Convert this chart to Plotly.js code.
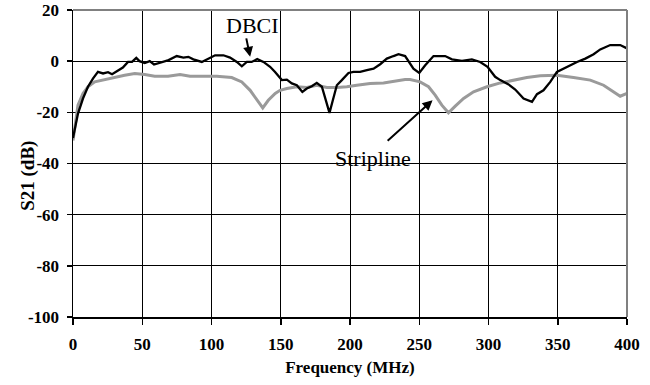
<!DOCTYPE html>
<html>
<head>
<meta charset="utf-8">
<script src="https://cdn.plot.ly/plotly-3.0.1.min.js"></script>
<style>html,body{margin:0;padding:0;background:#fff;}#chart{width:650px;height:385px;}</style>
</head>
<body>
<div id="chart"></div>
<script>
// DBCI series (black)
var dbciFreq = [0,1.2,3.6,7.2,10.8,14.4,18,21.7,25.3,28.2,32.5,36,39.7,42.6,45.7,48,51.8,55.4,58.5,61.4,65,69,74.9,79.7,83.3,86.9,93,97.8,102.6,108.6,113.4,118.3,121.9,125.5,129,133,137.5,142.3,145.9,150.8,154.4,158,161.6,165.6,168.8,172.4,176,179.7,182.8,185.2,187.6,190.5,194.1,198.9,202.5,207.3,212.2,217,221.8,226.6,231.4,235,239.8,245.8,250,254.3,260.3,268.7,273.6,280.8,288,294,299.3,304.8,308.5,314.5,319.3,325.3,331.4,335,339.7,344.6,349.4,354.2,359,363.9,369.9,375.9,380.7,387.9,395.1,400];
var dbciS21 = [-30,-27,-20.5,-14.6,-10,-6.8,-4.2,-4.8,-4.3,-5.1,-3.5,-2.5,-0.3,-0.3,1.3,0,-0.7,0,-1.3,-0.9,-0.3,0.4,2,1.4,1.7,0.7,-0.3,1,2.3,2.3,1.4,-0.3,-2,-0.3,-0.3,0.8,-0.3,-2.2,-4.2,-7.4,-7.2,-8.7,-9.4,-12,-10.7,-9.8,-8.5,-10,-15.9,-20.2,-15.3,-9.4,-7.4,-4.6,-4.2,-4.2,-3.5,-2.9,-1.2,1,2,2.7,2,-2.9,-4.6,-1.6,2,2,0.7,0.1,0.7,-0.3,-2.2,-6.1,-7.4,-9.1,-11.1,-14.6,-15.9,-12.9,-11.4,-8.1,-4.2,-2.9,-1.6,-0.3,1,2.7,4.6,6.3,6.3,5];

// Stripline series (gray)
var stripFreq = [0,1.2,3.6,7.2,10.8,15.7,22.9,30.1,37.3,44.6,51.8,59,68.6,77.3,84.5,94,103.8,114.6,121.9,127.9,133,137,141,146,149.5,154.4,161.6,168.8,176,183.3,190.5,197.7,204.9,214.5,224.2,231.4,239.8,243.4,250.6,256.7,261.5,266.3,271.1,276,282,289.2,298.9,308.5,318.1,327.7,337.4,349.4,361.4,373.5,383.1,390.3,395.1,400];
var stripS21 = [-31,-26,-17.2,-12.6,-10,-8.1,-7.2,-6.4,-5.5,-4.8,-5.2,-5.9,-5.9,-5.2,-5.9,-5.9,-5.9,-6.4,-8.1,-11.4,-15.3,-18.3,-15.3,-12.6,-11.4,-10.7,-10,-10.3,-9.4,-10.3,-10.3,-10,-9.4,-8.7,-8.5,-7.8,-7.2,-7.2,-8.1,-10,-13.3,-17.2,-20.2,-17.6,-14.6,-12,-10,-8.5,-7.4,-6.4,-5.7,-5.5,-6.4,-7.4,-9.4,-12,-13.7,-12.6];

var xTicks = [0,50,100,150,200,250,300,350,400];
var yTicks = [-100,-80,-60,-40,-20,0,20];

var labels = ["DBCI", "Stripline"];
var yTitle = "S21 (dB)";
var xTitle = "Frequency (MHz)";
// label positions and arrow tip/tail (data units)
var labelPos = [[129.7, 13.8], [216.4, -38.1]];
var arrowTip = [[127.9, 1.7], [259.6, -15.3]];
var arrowTail = [[124.9, 9.5], [226.1, -31.6]];

var serif = "'Liberation Serif', 'Times New Roman', serif";

var traces = [
  {x: stripFreq, y: stripS21, type: 'scatter', mode: 'lines', name: labels[1],
   line: {color: '#9a9a9a', width: 3}},
  {x: dbciFreq, y: dbciS21, type: 'scatter', mode: 'lines', name: labels[0],
   line: {color: '#000000', width: 2.3}}
];

var annotations = [];
for (var i = 0; i < labels.length; i++) {
  annotations.push({x: labelPos[i][0], y: labelPos[i][1], xref: 'x', yref: 'y',
    text: labels[i], showarrow: false, font: {family: serif, size: 22, color: '#000'}});
  annotations.push({x: arrowTip[i][0], y: arrowTip[i][1], xref: 'x', yref: 'y',
    ax: arrowTail[i][0], ay: arrowTail[i][1], axref: 'x', ayref: 'y',
    text: '', showarrow: true, arrowhead: 2, arrowsize: 1, arrowwidth: 2,
    arrowcolor: '#000', standoff: 0, startstandoff: 0});
}
// y-axis title placed as annotation so it can sit closer to the tick labels
annotations.push({xref: 'paper', yref: 'paper', x: 0, y: 0.46, xanchor: 'center', yanchor: 'middle',
  xshift: -45, textangle: -90, showarrow: false, text: '<b>' + yTitle + '</b>',
  font: {family: serif, size: 19, color: '#000'}});

function bold(v) { return '<b>' + v + '</b>'; }

var layout = {
  width: 650, height: 385,
  margin: {l: 73, r: 23, t: 10, b: 68},
  paper_bgcolor: '#fff', plot_bgcolor: '#fff',
  showlegend: false,
  font: {family: serif, color: '#000'},
  xaxis: {
    range: [0, 400], tickvals: xTicks, ticktext: xTicks.map(bold),
    showgrid: true, gridcolor: '#000', gridwidth: 1,
    showline: true, linecolor: '#000', linewidth: 1.5,
    ticks: 'outside', ticklen: 6, tickcolor: '#000', tickwidth: 1.5,
    ticklabelstandoff: 5,
    tickfont: {family: serif, size: 17, color: '#000', weight: 700},
    zeroline: false,
    title: {text: bold(xTitle), font: {family: serif, size: 17, color: '#000'}, standoff: 8}
  },
  yaxis: {
    range: [-100, 20], tickvals: yTicks, ticktext: yTicks.map(bold),
    showgrid: true, gridcolor: '#000', gridwidth: 1,
    showline: true, linecolor: '#000', linewidth: 1.5,
    ticks: 'outside', ticklen: 5, tickcolor: '#000', tickwidth: 1.5,
    ticklabelstandoff: 4,
    tickfont: {family: serif, size: 17, color: '#000', weight: 700},
    zeroline: false
  },
  shapes: [
    {type: 'line', xref: 'paper', yref: 'paper', x0: 0, x1: 1, y0: 1, y1: 1,
     line: {color: '#808080', width: 2}, layer: 'above'},
    {type: 'line', xref: 'paper', yref: 'paper', x0: 1, x1: 1, y0: 0, y1: 1,
     line: {color: '#808080', width: 2}, layer: 'above'}
  ],
  annotations: annotations
};

Plotly.newPlot('chart', traces, layout, {displayModeBar: false, staticPlot: true});
</script>
</body>
</html>
